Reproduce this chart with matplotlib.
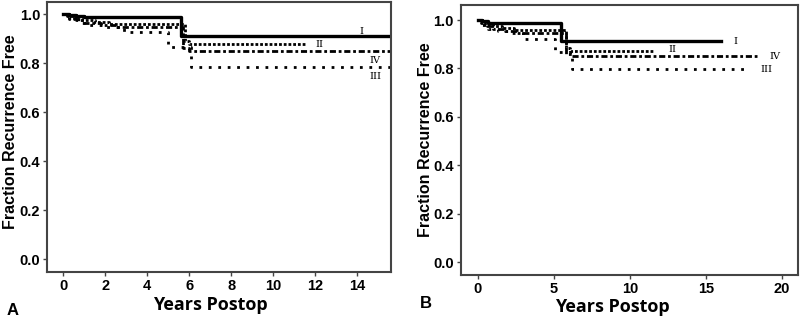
import matplotlib.pyplot as plt

# ---- panel A: step times (years) and fraction recurrence free ----
a_I_t = [0, 0.3, 0.6, 1.0, 5.6, 15.6]
a_I_s = [1.0, 0.995, 0.99, 0.988, 0.91, 0.91]
a_II_t = [0, 0.2, 0.5, 0.9, 1.5, 2.2, 5.8, 6.0, 11.5]
a_II_s = [1.0, 0.99, 0.98, 0.975, 0.968, 0.958, 0.89, 0.877, 0.877]
a_IV_t = [0, 0.3, 0.6, 1.0, 1.8, 2.5, 5.7, 6.0, 15.6]
a_IV_s = [1.0, 0.985, 0.975, 0.965, 0.955, 0.945, 0.86, 0.85, 0.85]
a_III_t = [0, 0.3, 0.7, 1.2, 2.0, 2.9, 5.0, 6.1, 15.6]
a_III_s = [1.0, 0.98, 0.965, 0.955, 0.945, 0.925, 0.865, 0.785, 0.785]

# ---- panel B ----
b_I_t = [0, 0.3, 0.7, 1.2, 5.5, 16.0]
b_I_s = [1.0, 0.995, 0.99, 0.988, 0.913, 0.913]
b_II_t = [0, 0.2, 0.5, 1.0, 1.6, 2.4, 5.8, 6.05, 11.6]
b_II_s = [1.0, 0.99, 0.98, 0.975, 0.968, 0.96, 0.885, 0.872, 0.872]
b_IV_t = [0, 0.3, 0.6, 1.0, 1.8, 2.6, 5.8, 6.2, 18.4]
b_IV_s = [1.0, 0.985, 0.975, 0.965, 0.955, 0.946, 0.86, 0.851, 0.851]
b_III_t = [0, 0.3, 0.7, 1.3, 2.1, 3.0, 5.1, 6.2, 17.9]
b_III_s = [1.0, 0.98, 0.965, 0.955, 0.945, 0.92, 0.868, 0.797, 0.797]

group_labels = ['I', 'II', 'IV', 'III']
a_xticks = [0, 2, 4, 6, 8, 10, 12, 14]
b_xticks = [0, 5, 10, 15, 20]
yticks = [0.0, 0.2, 0.4, 0.6, 0.8, 1.0]

styles = {
    'I': dict(ls='-', lw=2.4),
    'II': dict(ls=(0, (1, 0.7)), lw=2.0),
    'IV': dict(ls=(0, (2.2, 1, 1, 1)), lw=2.0),
    'III': dict(ls=(0, (1, 2.4)), lw=2.0),
}

fig = plt.figure(figsize=(8, 3.18), dpi=100)
axA = fig.add_axes([0.059, 0.1447, 0.43, 0.849])
axB = fig.add_axes([0.576, 0.135, 0.4215, 0.849])

panels = [
    (axA, [(a_I_t, a_I_s), (a_II_t, a_II_s), (a_IV_t, a_IV_s), (a_III_t, a_III_s)],
     a_xticks, (-0.76, 15.62), (-0.053, 1.049),
     {'I': (14.1, 0.93), 'II': (12.0, 0.875), 'IV': (14.6, 0.81), 'III': (14.6, 0.745)},
     (0.474, -0.122), (-0.108, 0.518)),
    (axB, [(b_I_t, b_I_s), (b_II_t, b_II_s), (b_IV_t, b_IV_s), (b_III_t, b_III_s)],
     b_xticks, (-1.12, 21.05), (-0.054, 1.062),
     {'I': (16.8, 0.913), 'II': (12.5, 0.88), 'IV': (19.2, 0.851), 'III': (18.6, 0.797)},
     (0.448, -0.118), (-0.104, 0.5)),
]

for ax, curves, xt, xl, yl, labpos, xlab_pos, ylab_pos in panels:
    for name, (t, s) in zip(group_labels, curves):
        ax.step(t, s, where='post', color='black', **styles[name])
        ax.text(labpos[name][0], labpos[name][1], name, family='DejaVu Serif',
                fontsize=7, va='center', ha='left')
    ax.set_xlim(*xl)
    ax.set_ylim(*yl)
    ax.set_xticks(xt)
    ax.set_yticks(yticks)
    ax.set_yticklabels(['%.1f' % v for v in yticks])
    for sp in ax.spines.values():
        sp.set_color('#444444')
        sp.set_linewidth(1.5)
    ax.tick_params(direction='out', length=3, width=1, color='#444444', pad=2)
    for lab in ax.get_xticklabels() + ax.get_yticklabels():
        lab.set_fontweight('bold')
        lab.set_fontsize(10.5)
        lab.set_family('Liberation Sans')
    ax.set_ylabel('Fraction Recurrence Free', fontweight='bold', fontsize=11.5,
                  family='Liberation Sans', va='center')
    ax.yaxis.set_label_coords(*ylab_pos)
    ax.set_xlabel('Years Postop', fontweight='bold', fontsize=13, family='Open Sans',
                  va='center')
    ax.xaxis.set_label_coords(*xlab_pos)

fig.text(0.008, 0.01, 'A', fontweight='bold', fontsize=12, family='Liberation Sans')
fig.text(0.525, 0.03, 'B', fontweight='bold', fontsize=12, family='Liberation Sans')

fig.savefig('out.png', dpi=100)
